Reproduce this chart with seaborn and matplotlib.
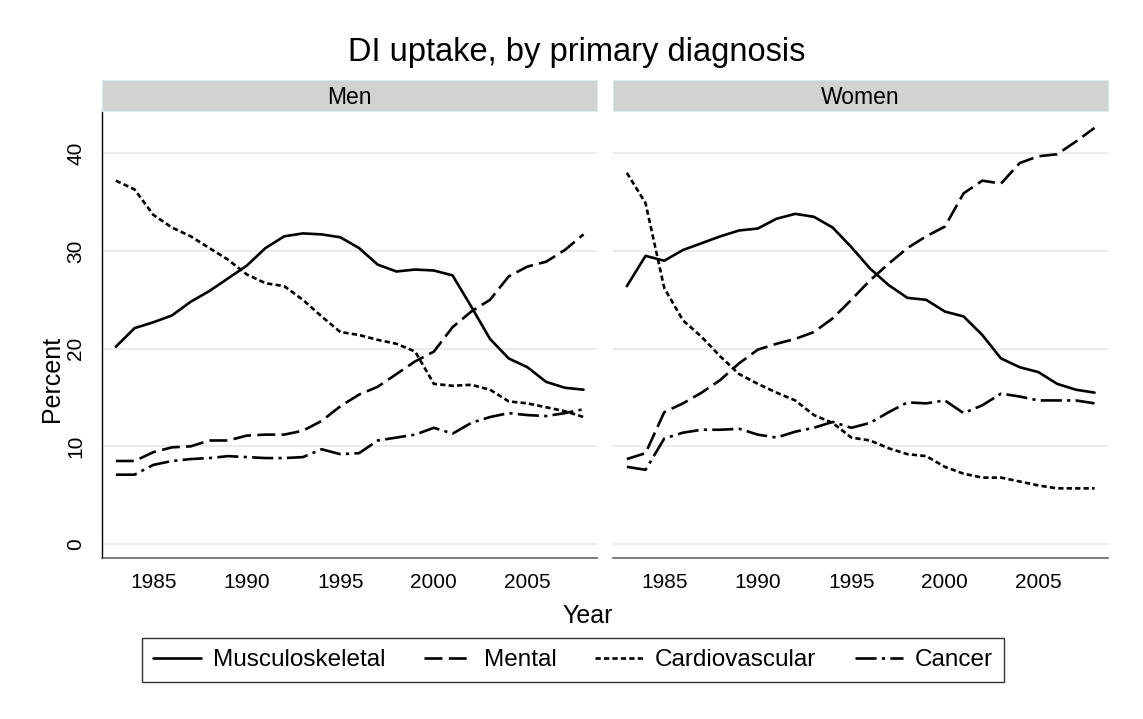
import pandas as pd
import matplotlib.pyplot as plt
import seaborn as sns

sns.set_style("white")
plt.rcParams['font.family'] = ['Liberation Sans', 'DejaVu Sans']
plt.rcParams['text.color'] = 'black'
plt.rcParams['xtick.color'] = 'black'
plt.rcParams['ytick.color'] = 'black'

years = [1983, 1984, 1985, 1986, 1987, 1988, 1989, 1990, 1991, 1992, 1993, 1994, 1995,
         1996, 1997, 1998, 1999, 2000, 2001, 2002, 2003, 2004, 2005, 2006, 2007, 2008]

diagnoses = ["Musculoskeletal", "Mental", "Cardiovascular", "Cancer"]
panels = ["Men", "Women"]

men_musc = [20.2, 22.1, 22.7, 23.4, 24.8, 25.9, 27.2, 28.5, 30.3, 31.5, 31.8, 31.7, 31.4,
            30.3, 28.6, 27.9, 28.1, 28.0, 27.5, 24.3, 21.0, 19.0, 18.1, 16.6, 16.0, 15.8]
men_mental = [8.5, 8.5, 9.4, 9.9, 10.0, 10.6, 10.6, 11.1, 11.2, 11.2, 11.6, 12.6, 14.1,
              15.3, 16.1, 17.4, 18.7, 19.7, 22.2, 23.8, 25.0, 27.4, 28.4, 28.9, 30.1, 31.7]
men_cardio = [37.2, 36.3, 33.7, 32.4, 31.5, 30.3, 29.1, 27.6, 26.7, 26.4, 25.0, 23.3, 21.7,
              21.4, 20.9, 20.5, 19.7, 16.4, 16.2, 16.3, 15.8, 14.6, 14.4, 14.0, 13.6, 13.0]
men_cancer = [7.1, 7.1, 8.1, 8.5, 8.7, 8.8, 9.0, 8.9, 8.8, 8.8, 8.9, 9.7, 9.2,
              9.3, 10.6, 10.9, 11.2, 11.9, 11.3, 12.4, 13.0, 13.4, 13.2, 13.1, 13.4, 13.8]

women_musc = [26.4, 29.5, 29.0, 30.1, 30.8, 31.5, 32.1, 32.3, 33.3, 33.8, 33.5, 32.4, 30.4,
              28.2, 26.5, 25.2, 25.0, 23.8, 23.3, 21.4, 19.0, 18.1, 17.6, 16.4, 15.8, 15.5]
women_mental = [8.7, 9.3, 13.5, 14.4, 15.5, 16.8, 18.5, 19.9, 20.5, 21.0, 21.7, 23.1, 25.0,
                27.0, 28.7, 30.3, 31.5, 32.5, 35.9, 37.2, 36.9, 39.0, 39.7, 39.9, 41.2, 42.6]
women_cardio = [38.0, 34.9, 26.2, 22.9, 21.2, 19.2, 17.4, 16.4, 15.5, 14.7, 13.2, 12.4, 10.9,
                10.6, 9.8, 9.2, 9.0, 7.9, 7.2, 6.8, 6.8, 6.4, 6.0, 5.7, 5.7, 5.7]
women_cancer = [7.9, 7.6, 10.8, 11.4, 11.7, 11.7, 11.8, 11.2, 10.9, 11.5, 11.9, 12.5, 11.9,
                12.4, 13.5, 14.5, 14.4, 14.7, 13.4, 14.2, 15.4, 15.1, 14.7, 14.7, 14.7, 14.4]

series = {
    "Men": [men_musc, men_mental, men_cardio, men_cancer],
    "Women": [women_musc, women_mental, women_cardio, women_cancer],
}

rows = []
for sex in panels:
    for diag, vals in zip(diagnoses, series[sex]):
        for yr, v in zip(years, vals):
            rows.append({"Sex": sex, "Diagnosis": diag, "Year": yr, "Percent": v})
df = pd.DataFrame(rows)

dash_styles = {
    "Musculoskeletal": "",
    "Mental": (6.8, 2.4),
    "Cardiovascular": (2.0, 1.2),
    "Cancer": (8.0, 2.0, 1.2, 2.0),
}

W, H = 1143, 719
fig = plt.figure(figsize=(W / 100, H / 100), dpi=100)

ax_y0 = 1 - 558 / H
ax_h = 447 / H
lefts = [102 / W, 613 / W]
ax_w = 495 / W

axes = []
for i, sex in enumerate(panels):
    ax = fig.add_axes([lefts[i], ax_y0, ax_w, ax_h], sharey=axes[0] if axes else None)
    axes.append(ax)
    sns.lineplot(data=df[df["Sex"] == sex], x="Year", y="Percent", style="Diagnosis",
                 style_order=diagnoses, dashes=dash_styles, color="black",
                 linewidth=1.9, ax=ax, legend=(i == 0))

    ax.set_xlim(1982.26, 2008.72)
    ax.set_ylim(-1.43, 44.33)
    ax.set_xticks([1985, 1990, 1995, 2000, 2005])
    ax.set_yticks([0, 10, 20, 30, 40])
    ax.yaxis.grid(True, color="#e6e6e6", linewidth=1.1)
    ax.set_axisbelow(True)
    ax.set_xlabel("")
    ax.set_ylabel("")
    for s in ["top", "right"]:
        ax.spines[s].set_visible(False)
    ax.spines["bottom"].set_color("#555555")
    ax.spines["bottom"].set_linewidth(1.1)
    ax.tick_params(axis="x", length=6, width=1.0, color="#666666", labelcolor="black",
                   labelsize=15, pad=5)

    # strip header
    sax = fig.add_axes([lefts[i], 1 - 111 / H, ax_w, 31 / H])
    sax.set_facecolor("#d2d2d2")
    sax.set_xticks([])
    sax.set_yticks([])
    for sp in sax.spines.values():
        sp.set_color("#dbe7eb")
        sp.set_linewidth(0.8)
    sax.text(0.5, 0.45, sex, ha="center", va="center", fontsize=16.5, color="black",
             transform=sax.transAxes)

ax1, ax2 = axes
ax1.spines["left"].set_color("black")
ax1.spines["left"].set_linewidth(1.0)
ax1.tick_params(axis="y", length=6, width=1.0, color="#666666", labelcolor="black",
                labelsize=15, pad=6)
for lab in ax1.get_yticklabels():
    lab.set_rotation(90)
    lab.set_va("center")
ax2.spines["left"].set_visible(False)
ax2.tick_params(axis="y", left=False, labelleft=False)

handles, labels = ax1.get_legend_handles_labels()
ax1.get_legend().remove()
leg = fig.legend(handles, labels, loc="center", bbox_to_anchor=(573 / W, 1 - 660 / H),
                 ncol=4, fontsize=17.5, frameon=True, fancybox=False, handlelength=1.95,
                 handletextpad=0.5, columnspacing=1.6, borderpad=0.45)
leg.get_frame().set_edgecolor("black")
leg.get_frame().set_linewidth(1.0)
for ln in leg.get_lines():
    ln.set_linewidth(1.9)
for t in leg.get_texts():
    t.set_color("black")

fig.text(577 / W, 1 - 61 / H, "DI uptake, by primary diagnosis", ha="center",
         va="baseline", fontsize=23.5, color="black")
fig.text(588 / W, 1 - 623 / H, "Year", ha="center", va="baseline", fontsize=18,
         color="black")
fig.text(52 / W, 1 - 336 / H, "Percent", ha="right", va="center", rotation=90, fontsize=18,
         rotation_mode="anchor", color="black")

fig.savefig("out.png", dpi=100)
